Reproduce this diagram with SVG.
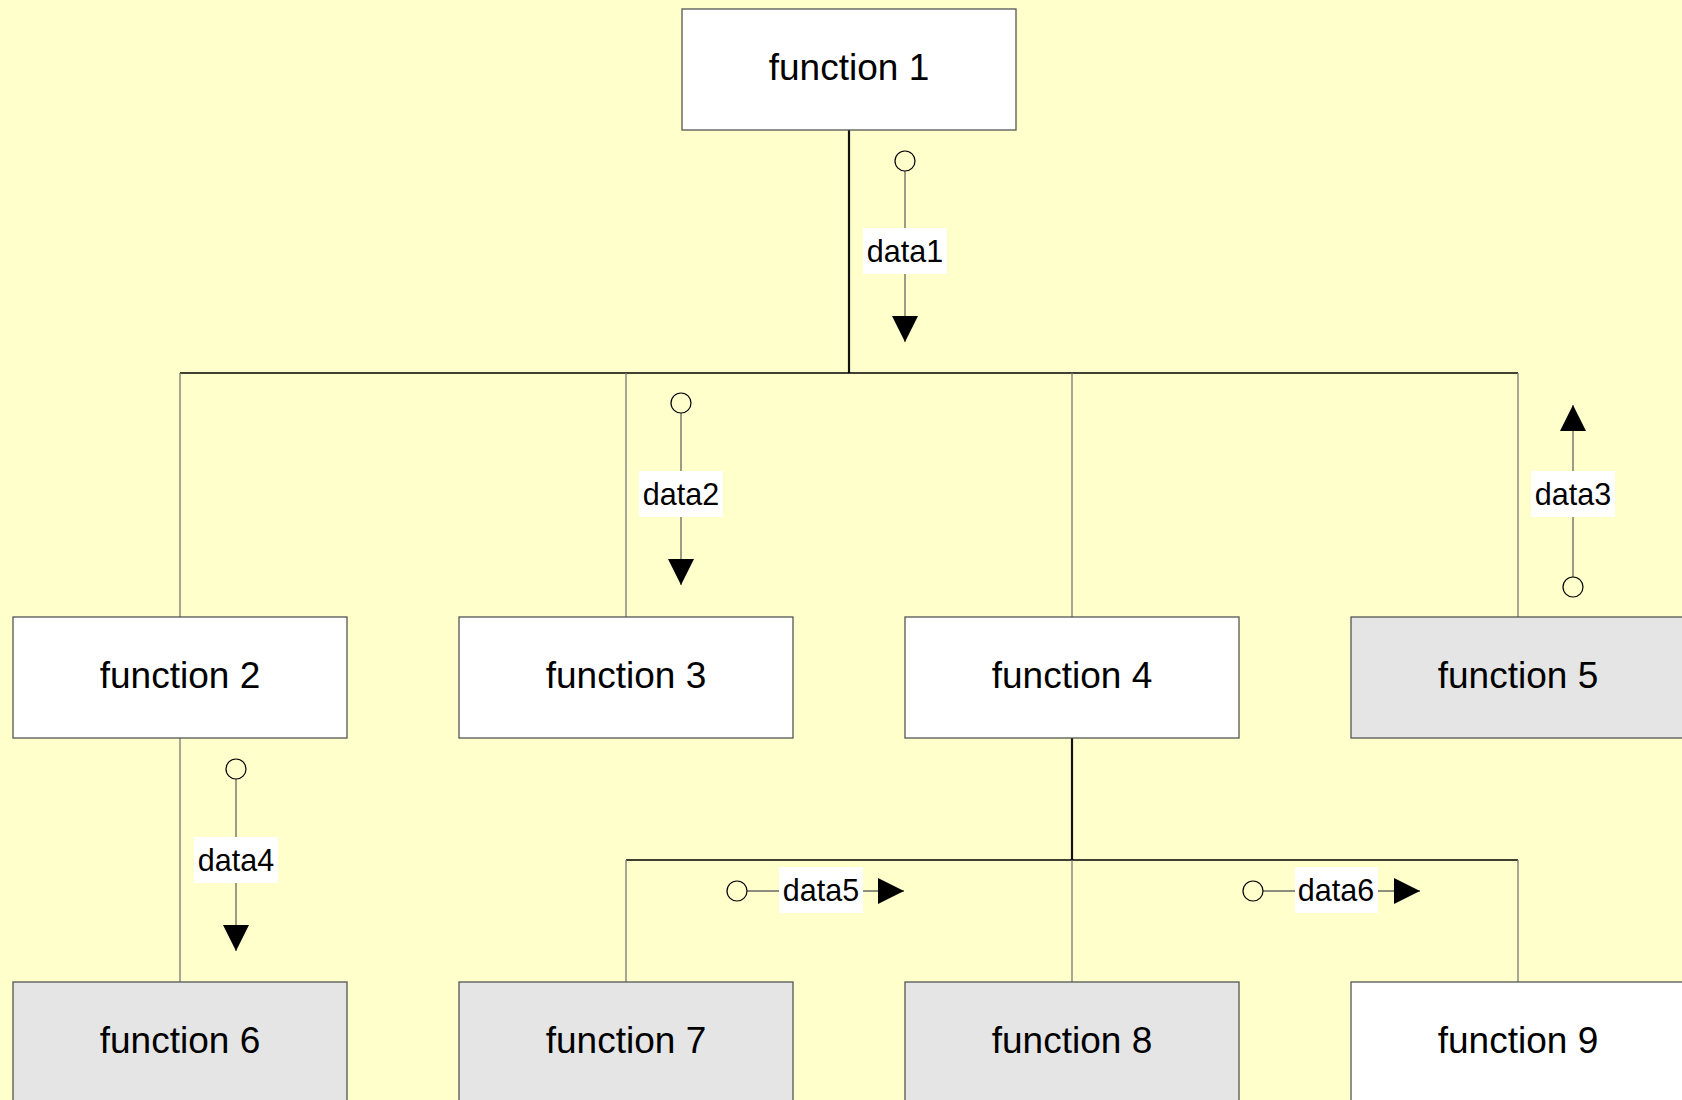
<svg xmlns="http://www.w3.org/2000/svg" width="1682" height="1100" viewBox="0 0 1682 1100">
<style>
.node rect{stroke:#555;stroke-width:1.3}
.w rect{fill:#FFFFFF}
.g rect{fill:#E5E5E5}
.node text{font-family:"Liberation Sans",Arial,sans-serif;font-size:37px;fill:#000;text-anchor:middle}
.stem{stroke:#111;stroke-width:2.2;fill:none}
.bus{stroke:#000;stroke-width:1.3;fill:none}
.br{stroke:#777;stroke-width:1.3;fill:none}
.flow{stroke:#666;stroke-width:1.3;fill:none;marker-end:url(#arr)}
.dot{fill:#FFFFCC;stroke:#000;stroke-width:1.2}
.lbl rect{fill:#FFFFFF}
.lbl text{font-family:"Liberation Sans",Arial,sans-serif;font-size:30.5px;fill:#000;text-anchor:middle}
</style>
<defs>
<marker id="arr" viewBox="0 0 26 26" refX="26" refY="13" markerWidth="26" markerHeight="26" orient="auto" markerUnits="userSpaceOnUse">
<path d="M0,0 L26,13 L0,26 Z" fill="#000"/>
</marker>
</defs>
<rect x="0" y="0" width="1682" height="1100" fill="#FFFFCC"/>
<g id="connectors">
<line class="stem" x1="849" y1="130" x2="849" y2="373"/>
<line class="bus" x1="180" y1="373" x2="1518" y2="373"/>
<line class="br" x1="180" y1="373" x2="180" y2="617"/>
<line class="br" x1="626" y1="373" x2="626" y2="617"/>
<line class="br" x1="1072" y1="373" x2="1072" y2="617"/>
<line class="br" x1="1518" y1="373" x2="1518" y2="617"/>
<line class="br" x1="180" y1="738" x2="180" y2="982"/>
<line class="stem" x1="1072" y1="738" x2="1072" y2="860"/>
<line class="bus" x1="626" y1="860" x2="1518" y2="860"/>
<line class="br" x1="626" y1="860" x2="626" y2="982"/>
<line class="br" x1="1072" y1="860" x2="1072" y2="982"/>
<line class="br" x1="1518" y1="860" x2="1518" y2="982"/>
</g>
<g id="flow-data1">
<line class="flow" x1="905" y1="171" x2="905" y2="342"/>
<circle class="dot" cx="905" cy="161" r="10"/>
<g class="lbl"><rect x="863" y="228" width="84" height="46"/><text x="905" y="262">data1</text></g>
</g>
<g id="flow-data2">
<line class="flow" x1="681" y1="413" x2="681" y2="585"/>
<circle class="dot" cx="681" cy="403" r="10"/>
<g class="lbl"><rect x="639" y="471" width="84" height="46"/><text x="681" y="505">data2</text></g>
</g>
<g id="flow-data3">
<line class="flow" x1="1573" y1="577" x2="1573" y2="405"/>
<circle class="dot" cx="1573" cy="587" r="10"/>
<g class="lbl"><rect x="1531" y="471" width="84" height="46"/><text x="1573" y="505">data3</text></g>
</g>
<g id="flow-data4">
<line class="flow" x1="236" y1="779" x2="236" y2="951"/>
<circle class="dot" cx="236" cy="769" r="10"/>
<g class="lbl"><rect x="194" y="837" width="84" height="46"/><text x="236" y="871">data4</text></g>
</g>
<g id="flow-data5">
<line class="flow" x1="747" y1="891" x2="904" y2="891"/>
<circle class="dot" cx="737" cy="891" r="10"/>
<g class="lbl"><rect x="779" y="867" width="84" height="46"/><text x="821" y="901">data5</text></g>
</g>
<g id="flow-data6">
<line class="flow" x1="1263" y1="891" x2="1420" y2="891"/>
<circle class="dot" cx="1253" cy="891" r="10"/>
<g class="lbl"><rect x="1295" y="867" width="83" height="46"/><text x="1336" y="901">data6</text></g>
</g>
<g id="f1" class="node w"><rect x="682" y="9" width="334" height="121"/><text x="849" y="80">function 1</text></g>
<g id="f2" class="node w"><rect x="13" y="617" width="334" height="121"/><text x="180" y="688">function 2</text></g>
<g id="f3" class="node w"><rect x="459" y="617" width="334" height="121"/><text x="626" y="688">function 3</text></g>
<g id="f4" class="node w"><rect x="905" y="617" width="334" height="121"/><text x="1072" y="688">function 4</text></g>
<g id="f5" class="node g"><rect x="1351" y="617" width="334" height="121"/><text x="1518" y="688">function 5</text></g>
<g id="f6" class="node g"><rect x="13" y="982" width="334" height="121"/><text x="180" y="1053">function 6</text></g>
<g id="f7" class="node g"><rect x="459" y="982" width="334" height="121"/><text x="626" y="1053">function 7</text></g>
<g id="f8" class="node g"><rect x="905" y="982" width="334" height="121"/><text x="1072" y="1053">function 8</text></g>
<g id="f9" class="node w"><rect x="1351" y="982" width="334" height="121"/><text x="1518" y="1053">function 9</text></g>
</svg>
